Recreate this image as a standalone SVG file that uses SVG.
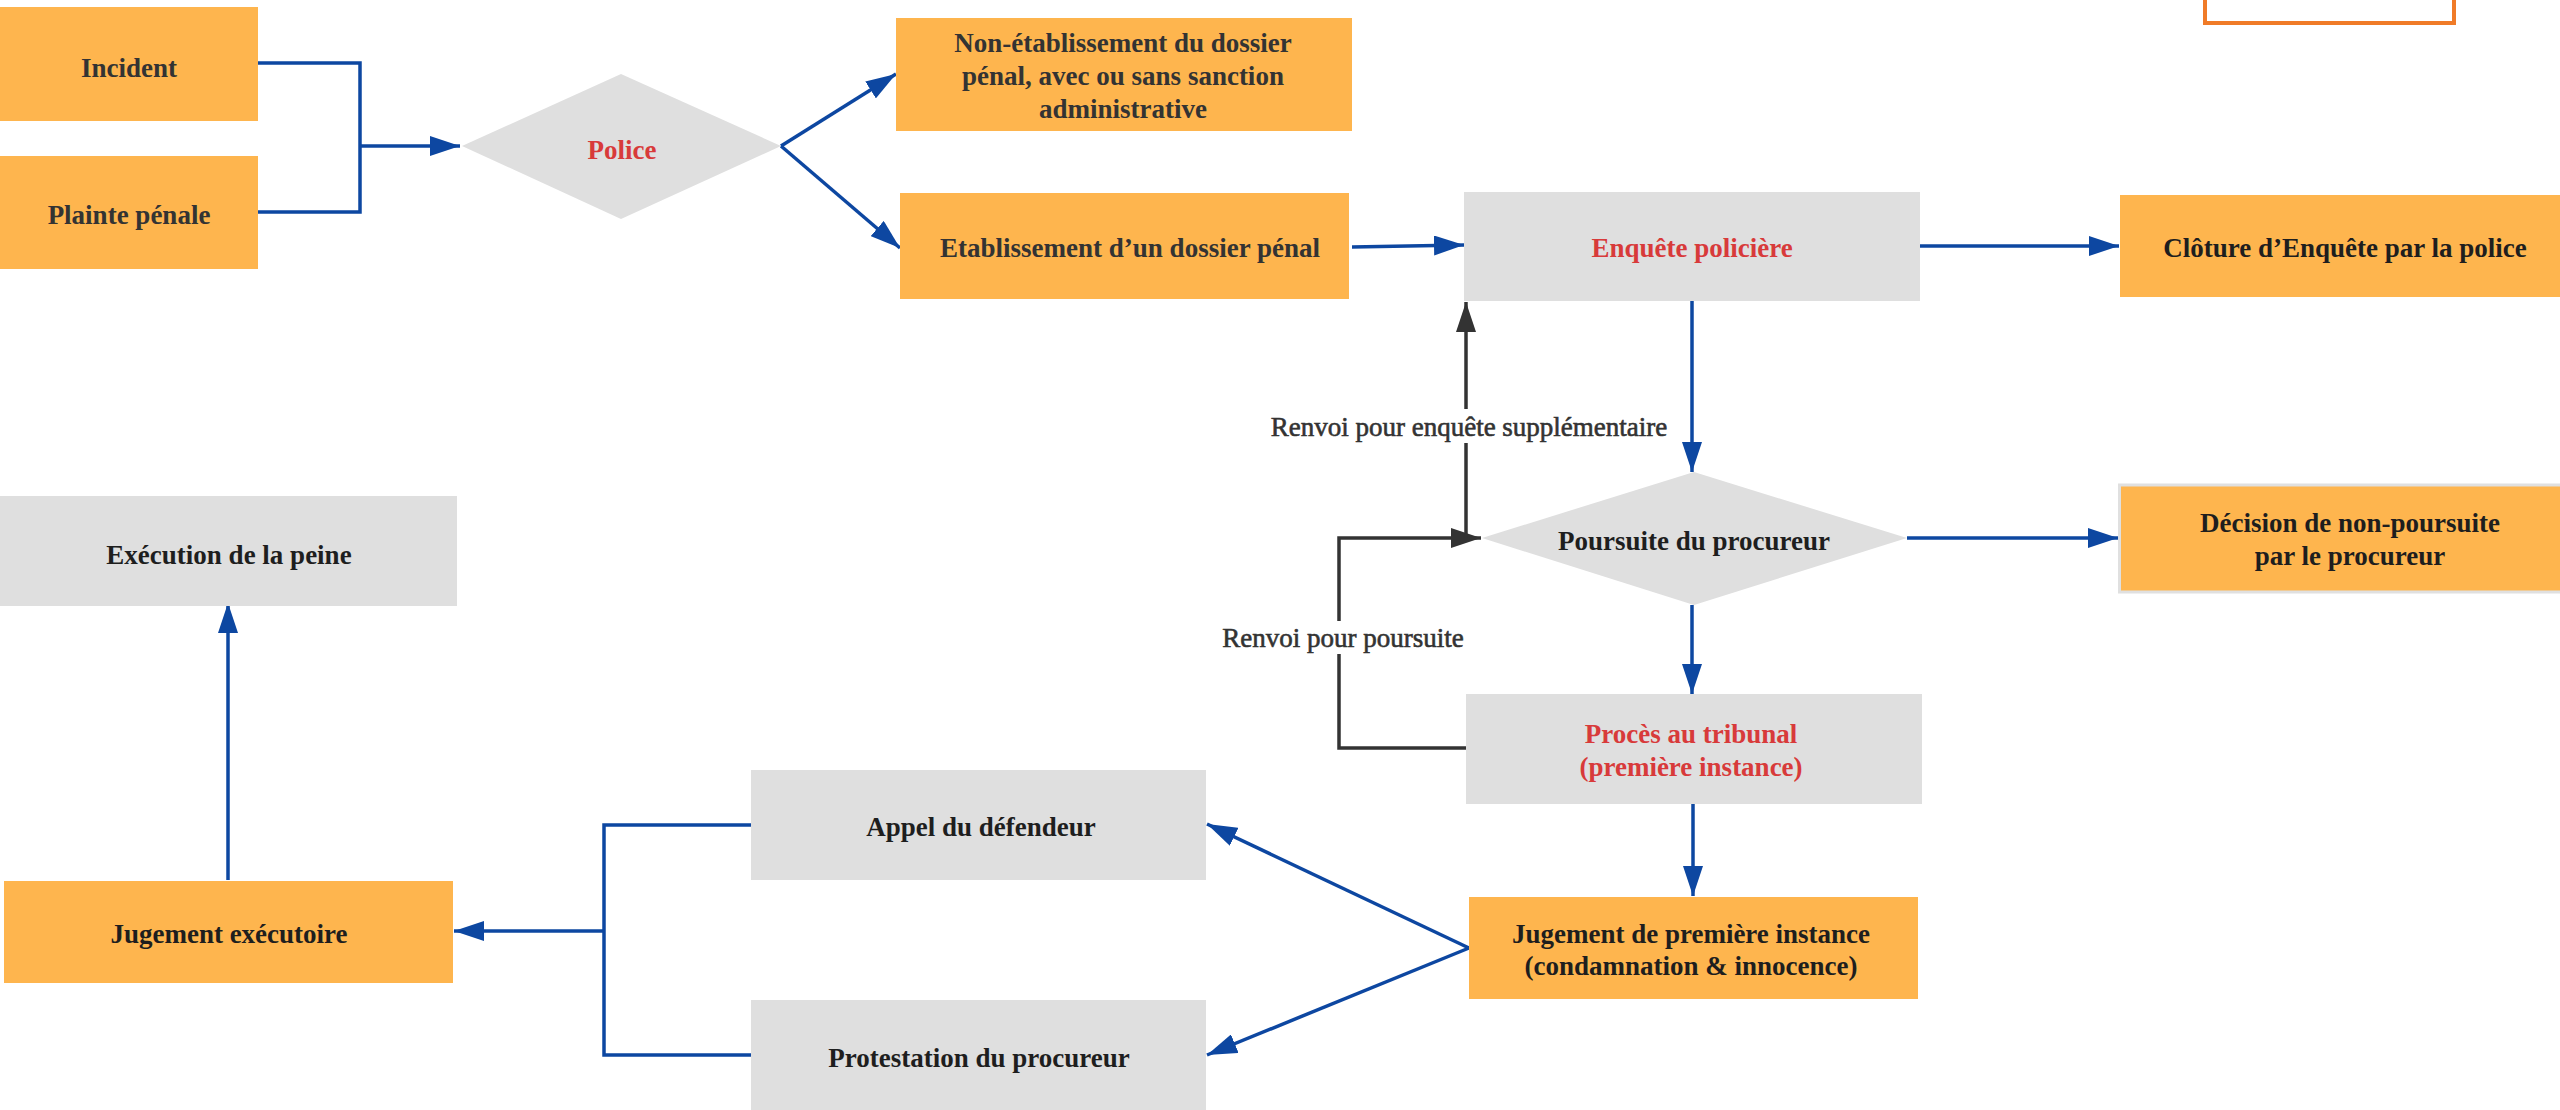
<svg xmlns="http://www.w3.org/2000/svg" width="2560" height="1110" viewBox="0 0 2560 1110">
<style>
.o{fill:#FEB54E}
.g{fill:#DFDFDF}
.t{font-family:"Liberation Serif","Times New Roman",serif;font-size:27px;font-weight:bold;fill:#1E1E1E;text-anchor:middle}
.d{fill:#333}
.r{fill:#D83A3A}
.lb{font-family:"Liberation Serif","Times New Roman",serif;font-size:27px;fill:#333;stroke:#333;stroke-width:0.6;text-anchor:middle}
.cb{fill:none;stroke:#0D47A1;stroke-width:3.5}
.ck{fill:none;stroke:#333;stroke-width:3.5}
</style>
<defs>
<marker id="ab" markerUnits="userSpaceOnUse" markerWidth="30" markerHeight="20" refX="30" refY="10" orient="auto" viewBox="0 0 30 20"><path d="M0,0 L30,10 L0,20 z" fill="#0D47A1"/></marker>
<marker id="ak" markerUnits="userSpaceOnUse" markerWidth="30" markerHeight="20" refX="30" refY="10" orient="auto" viewBox="0 0 30 20"><path d="M0,0 L30,10 L0,20 z" fill="#333"/></marker>
</defs>
<rect width="2560" height="1110" fill="#fff"/>

<g id="badge"><rect x="2205" y="-10" width="249" height="33" fill="#fff" stroke="#F07B28" stroke-width="4"/></g>

<g id="connectors">
<path class="cb" d="M258,63 H360 V212 H258"/>
<path class="cb" d="M360,146 H460" marker-end="url(#ab)"/>
<path class="cb" d="M781,146 L896,74" marker-end="url(#ab)"/>
<path class="cb" d="M781,146 L900,248" marker-end="url(#ab)"/>
<path class="cb" d="M1352,247 L1464,245" marker-end="url(#ab)"/>
<path class="cb" d="M1920,246 H2119" marker-end="url(#ab)"/>
<path class="cb" d="M1692,301 V472" marker-end="url(#ab)"/>
<path class="cb" d="M1907,538 H2118" marker-end="url(#ab)"/>
<path class="cb" d="M1692,605 V694" marker-end="url(#ab)"/>
<path class="cb" d="M1693,804 V896" marker-end="url(#ab)"/>
<path class="cb" d="M1469,948 L1207,824" marker-end="url(#ab)"/>
<path class="cb" d="M1469,948 L1207,1055" marker-end="url(#ab)"/>
<path class="cb" d="M751,825 H604 V1055 H751"/>
<path class="cb" d="M604,931 H454" marker-end="url(#ab)"/>
<path class="cb" d="M228,880 V603" marker-end="url(#ab)"/>
<path class="ck" d="M1466,748 H1339 V538 H1481" marker-end="url(#ak)"/>
<path class="ck" d="M1466,538 V302" marker-end="url(#ak)"/>
<rect x="1266" y="409" width="406" height="34" fill="#fff"/>
<text class="lb" x="1469" y="436">Renvoi pour enquête supplémentaire</text>
<rect x="1218" y="621" width="250" height="33" fill="#fff"/>
<text class="lb" x="1343" y="647">Renvoi pour poursuite</text>
</g>

<g id="incident"><rect class="o" x="0" y="7" width="258" height="114"/><text class="t d" x="129" y="77">Incident</text></g>
<g id="plainte"><rect class="o" x="0" y="156" width="258" height="113"/><text class="t d" x="129" y="224">Plainte pénale</text></g>
<g id="police"><path class="g" d="M462,146 L621,74 L781,146 L621,219 z"/><text class="t r" x="622" y="159">Police</text></g>
<g id="non-etablissement"><rect class="o" x="896" y="18" width="456" height="113"/>
<text class="t d" x="1123" y="52">Non-établissement du dossier</text>
<text class="t d" x="1123" y="85">pénal, avec ou sans sanction</text>
<text class="t d" x="1123" y="118">administrative</text></g>
<g id="etablissement"><rect class="o" x="900" y="193" width="449" height="106"/><text class="t d" x="1130" y="257">Etablissement d’un dossier pénal</text></g>
<g id="enquete"><rect class="g" x="1464" y="192" width="456" height="109"/><text class="t r" x="1692" y="257">Enquête policière</text></g>
<g id="cloture"><rect class="o" x="2120" y="195" width="440" height="102"/><text class="t" x="2345" y="257">Clôture d’Enquête par la police</text></g>
<g id="poursuite"><path class="g" d="M1482,538 L1694,472 L1907,538 L1694,605 z"/><text class="t" x="1694" y="550">Poursuite du procureur</text></g>
<g id="decision"><rect class="o" x="2119.5" y="485" width="442" height="107" stroke="#E0E0E0" stroke-width="3"/>
<text class="t" x="2350" y="532">Décision de non-poursuite</text>
<text class="t" x="2350" y="565">par le procureur</text></g>
<g id="proces"><rect class="g" x="1466" y="694" width="456" height="110"/>
<text class="t r" x="1691" y="743">Procès au tribunal</text>
<text class="t r" x="1691" y="776">(première instance)</text></g>
<g id="jugement-premiere"><rect class="o" x="1469" y="897" width="449" height="102"/>
<text class="t" x="1691" y="943">Jugement de première instance</text>
<text class="t" x="1691" y="975">(condamnation &amp; innocence)</text></g>
<g id="appel"><rect class="g" x="751" y="770" width="455" height="110"/><text class="t" x="981" y="836">Appel du défendeur</text></g>
<g id="protestation"><rect class="g" x="751" y="1000" width="455" height="110"/><text class="t" x="979" y="1067">Protestation du procureur</text></g>
<g id="jugement-executoire"><rect class="o" x="4" y="881" width="449" height="102"/><text class="t" x="229" y="943">Jugement exécutoire</text></g>
<g id="execution"><rect class="g" x="0" y="496" width="457" height="110"/><text class="t" x="229" y="564">Exécution de la peine</text></g>
</svg>
